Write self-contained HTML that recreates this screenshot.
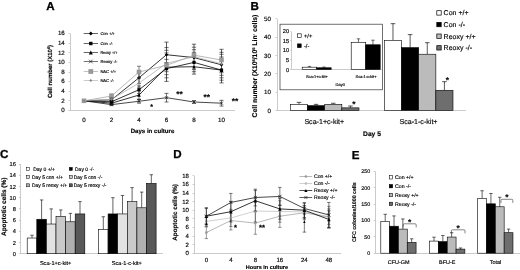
<!DOCTYPE html>
<html lang="en"><head><meta charset="utf-8"><title>Figure</title>
<style>
html,body{margin:0;padding:0;background:#fff;}
body{width:520px;height:270px;overflow:hidden;}
svg{display:block;font-family:"Liberation Sans", Arial, sans-serif;text-rendering:geometricPrecision;filter:blur(0.45px);}
</style></head><body>
<svg width="520" height="270" viewBox="0 0 520 270">
<rect x="0" y="0" width="520" height="270" fill="#fff"/>
<text x="46.20" y="9.70" font-size="11.6" text-anchor="start" font-weight="bold" fill="#000"  stroke="#000" stroke-width="0.3">A</text>
<line x1="70.50" y1="33.60" x2="70.50" y2="110.40" stroke="#b4b4b4" stroke-width="0.7" />
<line x1="70.00" y1="110.50" x2="235.00" y2="110.50" stroke="#b4b4b4" stroke-width="0.7" />
<line x1="68.50" y1="110.50" x2="70.00" y2="110.50" stroke="#b4b4b4" stroke-width="0.7" />
<text x="64.80" y="112.20" font-size="6.2" text-anchor="end" fill="#000"  stroke="#000" stroke-width="0.15">0</text>
<line x1="68.50" y1="100.50" x2="70.00" y2="100.50" stroke="#b4b4b4" stroke-width="0.7" />
<text x="64.80" y="102.60" font-size="6.2" text-anchor="end" fill="#000"  stroke="#000" stroke-width="0.15">2</text>
<line x1="68.50" y1="91.50" x2="70.00" y2="91.50" stroke="#b4b4b4" stroke-width="0.7" />
<text x="64.80" y="93.00" font-size="6.2" text-anchor="end" fill="#000"  stroke="#000" stroke-width="0.15">4</text>
<line x1="68.50" y1="81.50" x2="70.00" y2="81.50" stroke="#b4b4b4" stroke-width="0.7" />
<text x="64.80" y="83.40" font-size="6.2" text-anchor="end" fill="#000"  stroke="#000" stroke-width="0.15">6</text>
<line x1="68.50" y1="72.50" x2="70.00" y2="72.50" stroke="#b4b4b4" stroke-width="0.7" />
<text x="64.80" y="73.80" font-size="6.2" text-anchor="end" fill="#000"  stroke="#000" stroke-width="0.15">8</text>
<line x1="68.50" y1="62.50" x2="70.00" y2="62.50" stroke="#b4b4b4" stroke-width="0.7" />
<text x="64.80" y="64.20" font-size="6.2" text-anchor="end" fill="#000"  stroke="#000" stroke-width="0.15">10</text>
<line x1="68.50" y1="52.50" x2="70.00" y2="52.50" stroke="#b4b4b4" stroke-width="0.7" />
<text x="64.80" y="54.60" font-size="6.2" text-anchor="end" fill="#000"  stroke="#000" stroke-width="0.15">12</text>
<line x1="68.50" y1="43.50" x2="70.00" y2="43.50" stroke="#b4b4b4" stroke-width="0.7" />
<text x="64.80" y="45.00" font-size="6.2" text-anchor="end" fill="#000"  stroke="#000" stroke-width="0.15">14</text>
<line x1="68.50" y1="33.50" x2="70.00" y2="33.50" stroke="#b4b4b4" stroke-width="0.7" />
<text x="64.80" y="35.40" font-size="6.2" text-anchor="end" fill="#000"  stroke="#000" stroke-width="0.15">16</text>
<text x="84.00" y="121.90" font-size="6.2" text-anchor="middle" fill="#000"  stroke="#000" stroke-width="0.15">0</text>
<text x="111.50" y="121.90" font-size="6.2" text-anchor="middle" fill="#000"  stroke="#000" stroke-width="0.15">2</text>
<text x="139.00" y="121.90" font-size="6.2" text-anchor="middle" fill="#000"  stroke="#000" stroke-width="0.15">4</text>
<text x="166.50" y="121.90" font-size="6.2" text-anchor="middle" fill="#000"  stroke="#000" stroke-width="0.15">6</text>
<text x="194.00" y="121.90" font-size="6.2" text-anchor="middle" fill="#000"  stroke="#000" stroke-width="0.15">8</text>
<text x="221.50" y="121.90" font-size="6.2" text-anchor="middle" fill="#000"  stroke="#000" stroke-width="0.15">10</text>
<text x="152.50" y="132.50" font-size="6.1" text-anchor="middle" font-weight="bold" fill="#000"  stroke="#000" stroke-width="0.15">Days in culture</text>
<text x="52.00" y="71.50" font-size="6.0" text-anchor="middle" font-weight="bold" fill="#000" transform="rotate(-90 52.00 71.50)"  stroke="#000" stroke-width="0.15">Cell number (X10<tspan font-size="3.8" dy="-2">6</tspan><tspan dy="2">)</tspan></text>
<polyline points="84.00,100.80 111.50,99.84 139.00,77.76 166.50,54.72 194.00,57.60 221.50,64.80" fill="none" stroke="#000" stroke-width="0.8"/>
<line x1="111.50" y1="98.40" x2="111.50" y2="101.28" stroke="#111" stroke-width="0.6" />
<line x1="109.50" y1="98.40" x2="113.50" y2="98.40" stroke="#111" stroke-width="0.6" />
<line x1="109.50" y1="101.28" x2="113.50" y2="101.28" stroke="#111" stroke-width="0.6" />
<line x1="139.00" y1="72.00" x2="139.00" y2="83.52" stroke="#111" stroke-width="0.6" />
<line x1="137.00" y1="72.00" x2="141.00" y2="72.00" stroke="#111" stroke-width="0.6" />
<line x1="137.00" y1="83.52" x2="141.00" y2="83.52" stroke="#111" stroke-width="0.6" />
<line x1="166.50" y1="42.10" x2="166.50" y2="81.40" stroke="#111" stroke-width="0.7" />
<line x1="164.40" y1="42.10" x2="168.60" y2="42.10" stroke="#111" stroke-width="0.6" />
<line x1="164.40" y1="47.60" x2="168.60" y2="47.60" stroke="#111" stroke-width="0.6" />
<line x1="164.40" y1="50.30" x2="168.60" y2="50.30" stroke="#111" stroke-width="0.6" />
<line x1="164.40" y1="52.90" x2="168.60" y2="52.90" stroke="#111" stroke-width="0.6" />
<line x1="164.40" y1="59.40" x2="168.60" y2="59.40" stroke="#111" stroke-width="0.6" />
<line x1="164.40" y1="62.50" x2="168.60" y2="62.50" stroke="#111" stroke-width="0.6" />
<line x1="164.40" y1="71.70" x2="168.60" y2="71.70" stroke="#111" stroke-width="0.6" />
<line x1="164.40" y1="74.70" x2="168.60" y2="74.70" stroke="#111" stroke-width="0.6" />
<line x1="164.40" y1="77.80" x2="168.60" y2="77.80" stroke="#111" stroke-width="0.6" />
<line x1="164.40" y1="81.40" x2="168.60" y2="81.40" stroke="#111" stroke-width="0.6" />
<line x1="194.00" y1="44.20" x2="194.00" y2="74.10" stroke="#111" stroke-width="0.7" />
<line x1="191.90" y1="44.20" x2="196.10" y2="44.20" stroke="#111" stroke-width="0.6" />
<line x1="191.90" y1="47.20" x2="196.10" y2="47.20" stroke="#111" stroke-width="0.6" />
<line x1="191.90" y1="49.70" x2="196.10" y2="49.70" stroke="#111" stroke-width="0.6" />
<line x1="191.90" y1="52.30" x2="196.10" y2="52.30" stroke="#111" stroke-width="0.6" />
<line x1="191.90" y1="69.60" x2="196.10" y2="69.60" stroke="#111" stroke-width="0.6" />
<line x1="191.90" y1="71.70" x2="196.10" y2="71.70" stroke="#111" stroke-width="0.6" />
<line x1="191.90" y1="74.10" x2="196.10" y2="74.10" stroke="#111" stroke-width="0.6" />
<line x1="221.50" y1="49.30" x2="221.50" y2="82.90" stroke="#111" stroke-width="0.7" />
<line x1="219.40" y1="49.30" x2="223.60" y2="49.30" stroke="#111" stroke-width="0.6" />
<line x1="219.40" y1="52.30" x2="223.60" y2="52.30" stroke="#111" stroke-width="0.6" />
<line x1="219.40" y1="54.30" x2="223.60" y2="54.30" stroke="#111" stroke-width="0.6" />
<line x1="219.40" y1="57.00" x2="223.60" y2="57.00" stroke="#111" stroke-width="0.6" />
<line x1="219.40" y1="72.70" x2="223.60" y2="72.70" stroke="#111" stroke-width="0.6" />
<line x1="219.40" y1="75.30" x2="223.60" y2="75.30" stroke="#111" stroke-width="0.6" />
<line x1="219.40" y1="77.80" x2="223.60" y2="77.80" stroke="#111" stroke-width="0.6" />
<line x1="219.40" y1="80.20" x2="223.60" y2="80.20" stroke="#111" stroke-width="0.6" />
<line x1="219.40" y1="82.90" x2="223.60" y2="82.90" stroke="#111" stroke-width="0.6" />
<polygon points="84.00,99.00 85.80,100.80 84.00,102.60 82.20,100.80" fill="#000"/>
<polygon points="111.50,98.04 113.30,99.84 111.50,101.64 109.70,99.84" fill="#000"/>
<polygon points="139.00,75.96 140.80,77.76 139.00,79.56 137.20,77.76" fill="#000"/>
<polygon points="166.50,52.92 168.30,54.72 166.50,56.52 164.70,54.72" fill="#000"/>
<polygon points="194.00,55.80 195.80,57.60 194.00,59.40 192.20,57.60" fill="#000"/>
<polygon points="221.50,63.00 223.30,64.80 221.50,66.60 219.70,64.80" fill="#000"/>
<polyline points="84.00,100.80 111.50,101.76 139.00,89.76 166.50,68.64 194.00,62.40 221.50,70.08" fill="none" stroke="#000" stroke-width="0.8"/>
<line x1="111.50" y1="100.32" x2="111.50" y2="103.20" stroke="#111" stroke-width="0.6" />
<line x1="109.50" y1="100.32" x2="113.50" y2="100.32" stroke="#111" stroke-width="0.6" />
<line x1="109.50" y1="103.20" x2="113.50" y2="103.20" stroke="#111" stroke-width="0.6" />
<line x1="139.00" y1="85.92" x2="139.00" y2="93.60" stroke="#111" stroke-width="0.6" />
<line x1="137.00" y1="85.92" x2="141.00" y2="85.92" stroke="#111" stroke-width="0.6" />
<line x1="137.00" y1="93.60" x2="141.00" y2="93.60" stroke="#111" stroke-width="0.6" />
<rect x="82.40" y="99.20" width="3.20" height="3.20" fill="#000"/>
<rect x="109.90" y="100.16" width="3.20" height="3.20" fill="#000"/>
<rect x="137.40" y="88.16" width="3.20" height="3.20" fill="#000"/>
<rect x="164.90" y="67.04" width="3.20" height="3.20" fill="#000"/>
<rect x="192.40" y="60.80" width="3.20" height="3.20" fill="#000"/>
<rect x="219.90" y="68.48" width="3.20" height="3.20" fill="#000"/>
<polyline points="84.00,100.80 111.50,103.20 139.00,95.04 166.50,67.20 194.00,66.72 221.50,70.08" fill="none" stroke="#000" stroke-width="0.8"/>
<line x1="111.50" y1="101.76" x2="111.50" y2="104.64" stroke="#111" stroke-width="0.6" />
<line x1="109.50" y1="101.76" x2="113.50" y2="101.76" stroke="#111" stroke-width="0.6" />
<line x1="109.50" y1="104.64" x2="113.50" y2="104.64" stroke="#111" stroke-width="0.6" />
<line x1="139.00" y1="90.72" x2="139.00" y2="99.36" stroke="#111" stroke-width="0.6" />
<line x1="137.00" y1="90.72" x2="141.00" y2="90.72" stroke="#111" stroke-width="0.6" />
<line x1="137.00" y1="99.36" x2="141.00" y2="99.36" stroke="#111" stroke-width="0.6" />
<polygon points="84.00,99.00 85.80,102.60 82.20,102.60" fill="#000"/>
<polygon points="111.50,101.40 113.30,105.00 109.70,105.00" fill="#000"/>
<polygon points="139.00,93.24 140.80,96.84 137.20,96.84" fill="#000"/>
<polygon points="166.50,65.40 168.30,69.00 164.70,69.00" fill="#000"/>
<polygon points="194.00,64.92 195.80,68.52 192.20,68.52" fill="#000"/>
<polygon points="221.50,68.28 223.30,71.88 219.70,71.88" fill="#000"/>
<polyline points="84.00,100.80 111.50,104.64 139.00,101.28 166.50,97.68 194.00,102.00 221.50,103.20" fill="none" stroke="#1a1a1a" stroke-width="0.8"/>
<line x1="111.50" y1="103.68" x2="111.50" y2="105.60" stroke="#111" stroke-width="0.6" />
<line x1="109.50" y1="103.68" x2="113.50" y2="103.68" stroke="#111" stroke-width="0.6" />
<line x1="109.50" y1="105.60" x2="113.50" y2="105.60" stroke="#111" stroke-width="0.6" />
<line x1="139.00" y1="99.36" x2="139.00" y2="103.20" stroke="#111" stroke-width="0.6" />
<line x1="137.00" y1="99.36" x2="141.00" y2="99.36" stroke="#111" stroke-width="0.6" />
<line x1="137.00" y1="103.20" x2="141.00" y2="103.20" stroke="#111" stroke-width="0.6" />
<line x1="166.50" y1="93.36" x2="166.50" y2="102.00" stroke="#111" stroke-width="0.6" />
<line x1="164.50" y1="93.36" x2="168.50" y2="93.36" stroke="#111" stroke-width="0.6" />
<line x1="164.50" y1="102.00" x2="168.50" y2="102.00" stroke="#111" stroke-width="0.6" />
<line x1="194.00" y1="100.56" x2="194.00" y2="103.44" stroke="#111" stroke-width="0.6" />
<line x1="192.00" y1="100.56" x2="196.00" y2="100.56" stroke="#111" stroke-width="0.6" />
<line x1="192.00" y1="103.44" x2="196.00" y2="103.44" stroke="#111" stroke-width="0.6" />
<line x1="221.50" y1="100.32" x2="221.50" y2="106.08" stroke="#111" stroke-width="0.6" />
<line x1="219.50" y1="100.32" x2="223.50" y2="100.32" stroke="#111" stroke-width="0.6" />
<line x1="219.50" y1="106.08" x2="223.50" y2="106.08" stroke="#111" stroke-width="0.6" />
<path d="M82.50 99.30L85.50 102.30M82.50 102.30L85.50 99.30" stroke="#1a1a1a" stroke-width="0.7" fill="none"/>
<path d="M110.00 103.14L113.00 106.14M110.00 106.14L113.00 103.14" stroke="#1a1a1a" stroke-width="0.7" fill="none"/>
<path d="M137.50 99.78L140.50 102.78M137.50 102.78L140.50 99.78" stroke="#1a1a1a" stroke-width="0.7" fill="none"/>
<path d="M165.00 96.18L168.00 99.18M165.00 99.18L168.00 96.18" stroke="#1a1a1a" stroke-width="0.7" fill="none"/>
<path d="M192.50 100.50L195.50 103.50M192.50 103.50L195.50 100.50" stroke="#1a1a1a" stroke-width="0.7" fill="none"/>
<path d="M220.00 101.70L223.00 104.70M220.00 104.70L223.00 101.70" stroke="#1a1a1a" stroke-width="0.7" fill="none"/>
<polyline points="84.00,100.80 111.50,96.00 139.00,72.00 166.50,65.28 194.00,55.20 221.50,60.00" fill="none" stroke="#999" stroke-width="0.7"/>
<line x1="111.50" y1="94.08" x2="111.50" y2="97.92" stroke="#333" stroke-width="0.6" />
<line x1="109.50" y1="94.08" x2="113.50" y2="94.08" stroke="#333" stroke-width="0.6" />
<line x1="109.50" y1="97.92" x2="113.50" y2="97.92" stroke="#333" stroke-width="0.6" />
<line x1="139.00" y1="66.24" x2="139.00" y2="77.76" stroke="#333" stroke-width="0.6" />
<line x1="137.00" y1="66.24" x2="141.00" y2="66.24" stroke="#333" stroke-width="0.6" />
<line x1="137.00" y1="77.76" x2="141.00" y2="77.76" stroke="#333" stroke-width="0.6" />
<rect x="81.70" y="98.50" width="4.60" height="4.60" fill="#999"/>
<rect x="109.20" y="93.70" width="4.60" height="4.60" fill="#999"/>
<rect x="136.70" y="69.70" width="4.60" height="4.60" fill="#999"/>
<rect x="164.20" y="62.98" width="4.60" height="4.60" fill="#999"/>
<rect x="191.70" y="52.90" width="4.60" height="4.60" fill="#999"/>
<rect x="219.20" y="57.70" width="4.60" height="4.60" fill="#999"/>
<polyline points="84.00,100.80 111.50,99.36 139.00,83.04 166.50,63.36 194.00,56.64 221.50,63.84" fill="none" stroke="#aaa" stroke-width="0.7"/>
<line x1="111.50" y1="97.92" x2="111.50" y2="100.80" stroke="#333" stroke-width="0.6" />
<line x1="109.50" y1="97.92" x2="113.50" y2="97.92" stroke="#333" stroke-width="0.6" />
<line x1="109.50" y1="100.80" x2="113.50" y2="100.80" stroke="#333" stroke-width="0.6" />
<line x1="139.00" y1="78.24" x2="139.00" y2="87.84" stroke="#333" stroke-width="0.6" />
<line x1="137.00" y1="78.24" x2="141.00" y2="78.24" stroke="#333" stroke-width="0.6" />
<line x1="137.00" y1="87.84" x2="141.00" y2="87.84" stroke="#333" stroke-width="0.6" />
<polygon points="84.00,99.40 85.40,100.80 84.00,102.20 82.60,100.80" fill="#888"/>
<polygon points="111.50,97.96 112.90,99.36 111.50,100.76 110.10,99.36" fill="#888"/>
<polygon points="139.00,81.64 140.40,83.04 139.00,84.44 137.60,83.04" fill="#888"/>
<polygon points="166.50,61.96 167.90,63.36 166.50,64.76 165.10,63.36" fill="#888"/>
<polygon points="194.00,55.24 195.40,56.64 194.00,58.04 192.60,56.64" fill="#888"/>
<polygon points="221.50,62.44 222.90,63.84 221.50,65.24 220.10,63.84" fill="#888"/>
<line x1="83.70" y1="33.50" x2="98.00" y2="33.50" stroke="#000" stroke-width="0.6" />
<polygon points="90.80,31.50 92.80,33.50 90.80,35.50 88.80,33.50" fill="#000"/>
<text x="100.40" y="35.00" font-size="4.1" text-anchor="start" fill="#000"  stroke="#000" stroke-width="0.15">Con +/+</text>
<line x1="83.70" y1="43.50" x2="98.00" y2="43.50" stroke="#000" stroke-width="0.6" />
<rect x="89.10" y="41.80" width="3.40" height="3.40" fill="#000"/>
<text x="100.40" y="45.00" font-size="4.1" text-anchor="start" fill="#000"  stroke="#000" stroke-width="0.15">Con -/-</text>
<line x1="83.70" y1="52.50" x2="98.00" y2="52.50" stroke="#000" stroke-width="0.6" />
<polygon points="90.80,50.50 92.80,54.50 88.80,54.50" fill="#000"/>
<text x="100.40" y="54.00" font-size="4.1" text-anchor="start" fill="#000" textLength="17" lengthAdjust="spacingAndGlyphs" stroke="#000" stroke-width="0.15">Reoxy +/+</text>
<line x1="83.70" y1="61.50" x2="98.00" y2="61.50" stroke="#1a1a1a" stroke-width="0.6" />
<path d="M89.00 59.70L92.60 63.30M89.00 63.30L92.60 59.70" stroke="#1a1a1a" stroke-width="0.7" fill="none"/>
<text x="100.40" y="63.00" font-size="4.1" text-anchor="start" fill="#000" textLength="17" lengthAdjust="spacingAndGlyphs" stroke="#000" stroke-width="0.15">Reoxy -/-</text>
<line x1="83.70" y1="71.50" x2="98.00" y2="71.50" stroke="#999" stroke-width="0.6" />
<rect x="88.40" y="69.10" width="4.80" height="4.80" fill="#999"/>
<text x="100.40" y="73.00" font-size="4.1" text-anchor="start" fill="#000"  stroke="#000" stroke-width="0.15">NAC +/+</text>
<line x1="83.70" y1="80.50" x2="98.00" y2="80.50" stroke="#aaa" stroke-width="0.6" />
<polygon points="90.80,78.90 92.40,80.50 90.80,82.10 89.20,80.50" fill="#888"/>
<text x="100.40" y="82.00" font-size="4.1" text-anchor="start" fill="#000"  stroke="#000" stroke-width="0.15">NAC -/-</text>
<text x="151.70" y="108.93" font-size="7" text-anchor="middle" font-weight="bold" fill="#000"  stroke="#000" stroke-width="0.15">*</text>
<text x="179.60" y="97.32" font-size="8.4" text-anchor="middle" font-weight="bold" fill="#000"  stroke="#000" stroke-width="0.15">**</text>
<text x="206.80" y="100.32" font-size="8.4" text-anchor="middle" font-weight="bold" fill="#000"  stroke="#000" stroke-width="0.15">**</text>
<text x="235.00" y="103.82" font-size="8.4" text-anchor="middle" font-weight="bold" fill="#000"  stroke="#000" stroke-width="0.15">**</text>
<text x="250.60" y="9.70" font-size="11.6" text-anchor="start" font-weight="bold" fill="#000"  stroke="#000" stroke-width="0.3">B</text>
<line x1="277.50" y1="18.90" x2="277.50" y2="110.40" stroke="#b4b4b4" stroke-width="0.7" />
<line x1="277.00" y1="110.50" x2="466.00" y2="110.50" stroke="#b4b4b4" stroke-width="0.7" />
<line x1="275.50" y1="110.50" x2="277.00" y2="110.50" stroke="#b4b4b4" stroke-width="0.7" />
<text x="271.00" y="112.60" font-size="6.2" text-anchor="end" fill="#000"  stroke="#000" stroke-width="0.15">0</text>
<line x1="275.50" y1="92.50" x2="277.00" y2="92.50" stroke="#b4b4b4" stroke-width="0.7" />
<text x="271.00" y="94.30" font-size="6.2" text-anchor="end" fill="#000"  stroke="#000" stroke-width="0.15">10</text>
<line x1="275.50" y1="73.50" x2="277.00" y2="73.50" stroke="#b4b4b4" stroke-width="0.7" />
<text x="271.00" y="76.00" font-size="6.2" text-anchor="end" fill="#000"  stroke="#000" stroke-width="0.15">20</text>
<line x1="275.50" y1="55.50" x2="277.00" y2="55.50" stroke="#b4b4b4" stroke-width="0.7" />
<text x="271.00" y="57.70" font-size="6.2" text-anchor="end" fill="#000"  stroke="#000" stroke-width="0.15">30</text>
<line x1="275.50" y1="37.50" x2="277.00" y2="37.50" stroke="#b4b4b4" stroke-width="0.7" />
<text x="271.00" y="39.40" font-size="6.2" text-anchor="end" fill="#000"  stroke="#000" stroke-width="0.15">40</text>
<line x1="275.50" y1="18.50" x2="277.00" y2="18.50" stroke="#b4b4b4" stroke-width="0.7" />
<text x="271.00" y="21.10" font-size="6.2" text-anchor="end" fill="#000"  stroke="#000" stroke-width="0.15">50</text>
<text x="257.20" y="66.00" font-size="6.85" text-anchor="middle" font-weight="bold" fill="#000" transform="rotate(-90 257.20 66.00)"  stroke="#000" stroke-width="0.15">Cell number (X10<tspan font-size="4" dy="-2.2">6</tspan><tspan dy="2.2">/10</tspan><tspan font-size="4" dy="-2.2">5</tspan><tspan dy="2.2"> Lin</tspan><tspan font-size="4" dy="-2.2">-</tspan><tspan dy="2.2"> cells)</tspan></text>
<line x1="298.97" y1="104.54" x2="298.97" y2="102.35" stroke="#111" stroke-width="0.7" />
<line x1="296.67" y1="102.35" x2="301.27" y2="102.35" stroke="#111" stroke-width="0.7" />
<rect x="290.40" y="104.54" width="17.15" height="5.86" fill="#fff" stroke="#000" stroke-width="0.6"/>
<line x1="316.12" y1="105.64" x2="316.12" y2="104.36" stroke="#111" stroke-width="0.7" />
<line x1="313.82" y1="104.36" x2="318.42" y2="104.36" stroke="#111" stroke-width="0.7" />
<rect x="307.55" y="105.64" width="17.15" height="4.76" fill="#000" stroke="#000" stroke-width="0.6"/>
<line x1="333.27" y1="104.36" x2="333.27" y2="103.26" stroke="#111" stroke-width="0.7" />
<line x1="330.97" y1="103.26" x2="335.57" y2="103.26" stroke="#111" stroke-width="0.7" />
<rect x="324.70" y="104.36" width="17.15" height="6.04" fill="#bbb" stroke="#000" stroke-width="0.6"/>
<line x1="350.42" y1="107.84" x2="350.42" y2="106.01" stroke="#111" stroke-width="0.7" />
<line x1="348.12" y1="106.01" x2="352.72" y2="106.01" stroke="#111" stroke-width="0.7" />
<rect x="341.85" y="107.84" width="17.15" height="2.56" fill="#6e6e6e" stroke="#000" stroke-width="0.6"/>
<line x1="392.97" y1="40.31" x2="392.97" y2="23.66" stroke="#111" stroke-width="0.7" />
<line x1="390.67" y1="23.66" x2="395.27" y2="23.66" stroke="#111" stroke-width="0.7" />
<rect x="384.40" y="40.31" width="17.15" height="70.09" fill="#fff" stroke="#000" stroke-width="0.6"/>
<line x1="410.12" y1="47.63" x2="410.12" y2="34.64" stroke="#111" stroke-width="0.7" />
<line x1="407.82" y1="34.64" x2="412.42" y2="34.64" stroke="#111" stroke-width="0.7" />
<rect x="401.55" y="47.63" width="17.15" height="62.77" fill="#000" stroke="#000" stroke-width="0.6"/>
<line x1="427.27" y1="54.22" x2="427.27" y2="42.69" stroke="#111" stroke-width="0.7" />
<line x1="424.97" y1="42.69" x2="429.57" y2="42.69" stroke="#111" stroke-width="0.7" />
<rect x="418.70" y="54.22" width="17.15" height="56.18" fill="#bbb" stroke="#000" stroke-width="0.6"/>
<line x1="444.42" y1="90.27" x2="444.42" y2="81.67" stroke="#111" stroke-width="0.7" />
<line x1="442.12" y1="81.67" x2="446.72" y2="81.67" stroke="#111" stroke-width="0.7" />
<rect x="435.85" y="90.27" width="17.15" height="20.13" fill="#6e6e6e" stroke="#000" stroke-width="0.6"/>
<text x="354.00" y="107.42" font-size="8.4" text-anchor="middle" font-weight="bold" fill="#000"  stroke="#000" stroke-width="0.15">*</text>
<text x="447.40" y="82.92" font-size="8.4" text-anchor="middle" font-weight="bold" fill="#000"  stroke="#000" stroke-width="0.15">*</text>
<text x="324.30" y="123.60" font-size="7.1" text-anchor="middle" fill="#000"  stroke="#000" stroke-width="0.15">Sca-1+c-kit+</text>
<text x="418.50" y="123.60" font-size="7.1" text-anchor="middle" fill="#000"  stroke="#000" stroke-width="0.15">Sca-1-c-kit+</text>
<text x="372.00" y="135.60" font-size="6.7" text-anchor="middle" font-weight="bold" fill="#000"  stroke="#000" stroke-width="0.15">Day 5</text>
<rect x="436.80" y="10.70" width="4.40" height="4.40" fill="#fff" stroke="#000" stroke-width="0.7"/>
<text x="443.60" y="15.40" font-size="7.0" text-anchor="start" fill="#000"  stroke="#000" stroke-width="0.15">Con +/+</text>
<rect x="436.80" y="22.35" width="4.40" height="4.40" fill="#000" stroke="#000" stroke-width="0.7"/>
<text x="443.60" y="27.05" font-size="7.0" text-anchor="start" fill="#000"  stroke="#000" stroke-width="0.15">Con -/-</text>
<rect x="436.80" y="34.00" width="4.40" height="4.40" fill="#bbb" stroke="#000" stroke-width="0.7"/>
<text x="443.60" y="38.70" font-size="7.0" text-anchor="start" fill="#000"  stroke="#000" stroke-width="0.15">Reoxy +/+</text>
<rect x="436.80" y="45.65" width="4.40" height="4.40" fill="#6e6e6e" stroke="#000" stroke-width="0.7"/>
<text x="443.60" y="50.35" font-size="7.0" text-anchor="start" fill="#000"  stroke="#000" stroke-width="0.15">Reoxy -/-</text>
<rect x="280.00" y="24.20" width="102.40" height="65.60" fill="#fff" stroke="#333" stroke-width="0.7"/>
<line x1="291.50" y1="32.00" x2="291.50" y2="69.50" stroke="#b4b4b4" stroke-width="0.7" />
<line x1="291.50" y1="69.50" x2="381.60" y2="69.50" stroke="#b4b4b4" stroke-width="0.7" />
<line x1="290.30" y1="69.50" x2="291.50" y2="69.50" stroke="#b4b4b4" stroke-width="0.7" />
<text x="289.20" y="71.50" font-size="5.7" text-anchor="end" fill="#000"  stroke="#000" stroke-width="0.15">0</text>
<line x1="290.30" y1="59.50" x2="291.50" y2="59.50" stroke="#b4b4b4" stroke-width="0.7" />
<text x="289.20" y="61.92" font-size="5.7" text-anchor="end" fill="#000"  stroke="#000" stroke-width="0.15">5</text>
<line x1="290.30" y1="50.50" x2="291.50" y2="50.50" stroke="#b4b4b4" stroke-width="0.7" />
<text x="289.20" y="52.34" font-size="5.7" text-anchor="end" fill="#000"  stroke="#000" stroke-width="0.15">10</text>
<line x1="290.30" y1="40.50" x2="291.50" y2="40.50" stroke="#b4b4b4" stroke-width="0.7" />
<text x="289.20" y="42.76" font-size="5.7" text-anchor="end" fill="#000"  stroke="#000" stroke-width="0.15">15</text>
<line x1="290.30" y1="31.50" x2="291.50" y2="31.50" stroke="#b4b4b4" stroke-width="0.7" />
<text x="289.20" y="33.18" font-size="5.7" text-anchor="end" fill="#000"  stroke="#000" stroke-width="0.15">20</text>
<line x1="309.45" y1="67.20" x2="309.45" y2="66.43" stroke="#111" stroke-width="0.6" />
<line x1="307.75" y1="66.43" x2="311.15" y2="66.43" stroke="#111" stroke-width="0.6" />
<rect x="302.20" y="67.20" width="14.50" height="2.30" fill="#fff" stroke="#000" stroke-width="0.6"/>
<line x1="323.95" y1="67.78" x2="323.95" y2="67.01" stroke="#111" stroke-width="0.6" />
<line x1="322.25" y1="67.01" x2="325.65" y2="67.01" stroke="#111" stroke-width="0.6" />
<rect x="316.70" y="67.78" width="14.50" height="1.72" fill="#000" stroke="#000" stroke-width="0.6"/>
<line x1="358.45" y1="42.29" x2="358.45" y2="38.84" stroke="#111" stroke-width="0.6" />
<line x1="356.75" y1="38.84" x2="360.15" y2="38.84" stroke="#111" stroke-width="0.6" />
<rect x="351.20" y="42.29" width="14.50" height="27.21" fill="#fff" stroke="#000" stroke-width="0.6"/>
<line x1="372.95" y1="44.78" x2="372.95" y2="40.19" stroke="#111" stroke-width="0.6" />
<line x1="371.25" y1="40.19" x2="374.65" y2="40.19" stroke="#111" stroke-width="0.6" />
<rect x="365.70" y="44.78" width="14.50" height="24.72" fill="#000" stroke="#000" stroke-width="0.6"/>
<rect x="297.50" y="33.80" width="3.70" height="3.70" fill="#fff" stroke="#000" stroke-width="0.6"/>
<text x="303.90" y="37.70" font-size="5.8" text-anchor="start" fill="#000"  stroke="#000" stroke-width="0.15">+/+</text>
<rect x="297.50" y="43.90" width="3.70" height="3.70" fill="#000" stroke="#000" stroke-width="0.6"/>
<text x="303.90" y="47.70" font-size="5.8" text-anchor="start" fill="#000"  stroke="#000" stroke-width="0.15">-/-</text>
<text x="316.90" y="77.80" font-size="3.9" text-anchor="middle" fill="#000"  stroke="#000" stroke-width="0.15">Sca-1+c-kit+</text>
<text x="366.00" y="77.80" font-size="3.9" text-anchor="middle" fill="#000"  stroke="#000" stroke-width="0.15">Sca-1-c-kit+</text>
<text x="340.20" y="86.00" font-size="4.0" text-anchor="middle" fill="#000"  stroke="#000" stroke-width="0.15">Day0</text>
<text x="0.10" y="158.40" font-size="11.6" text-anchor="start" font-weight="bold" fill="#000"  stroke="#000" stroke-width="0.3">C</text>
<line x1="20.50" y1="164.10" x2="20.50" y2="253.70" stroke="#b4b4b4" stroke-width="0.7" />
<line x1="20.50" y1="253.50" x2="162.90" y2="253.50" stroke="#b4b4b4" stroke-width="0.7" />
<line x1="19.00" y1="253.50" x2="20.50" y2="253.50" stroke="#b4b4b4" stroke-width="0.7" />
<text x="15.80" y="255.70" font-size="5.7" text-anchor="end" fill="#000"  stroke="#000" stroke-width="0.15">0</text>
<line x1="19.00" y1="242.50" x2="20.50" y2="242.50" stroke="#b4b4b4" stroke-width="0.7" />
<text x="15.80" y="244.50" font-size="5.7" text-anchor="end" fill="#000"  stroke="#000" stroke-width="0.15">2</text>
<line x1="19.00" y1="231.50" x2="20.50" y2="231.50" stroke="#b4b4b4" stroke-width="0.7" />
<text x="15.80" y="233.30" font-size="5.7" text-anchor="end" fill="#000"  stroke="#000" stroke-width="0.15">4</text>
<line x1="19.00" y1="220.50" x2="20.50" y2="220.50" stroke="#b4b4b4" stroke-width="0.7" />
<text x="15.80" y="222.10" font-size="5.7" text-anchor="end" fill="#000"  stroke="#000" stroke-width="0.15">6</text>
<line x1="19.00" y1="208.50" x2="20.50" y2="208.50" stroke="#b4b4b4" stroke-width="0.7" />
<text x="15.80" y="210.90" font-size="5.7" text-anchor="end" fill="#000"  stroke="#000" stroke-width="0.15">8</text>
<line x1="19.00" y1="197.50" x2="20.50" y2="197.50" stroke="#b4b4b4" stroke-width="0.7" />
<text x="15.80" y="199.70" font-size="5.7" text-anchor="end" fill="#000"  stroke="#000" stroke-width="0.15">10</text>
<line x1="19.00" y1="186.50" x2="20.50" y2="186.50" stroke="#b4b4b4" stroke-width="0.7" />
<text x="15.80" y="188.50" font-size="5.7" text-anchor="end" fill="#000"  stroke="#000" stroke-width="0.15">12</text>
<line x1="19.00" y1="175.50" x2="20.50" y2="175.50" stroke="#b4b4b4" stroke-width="0.7" />
<text x="15.80" y="177.30" font-size="5.7" text-anchor="end" fill="#000"  stroke="#000" stroke-width="0.15">14</text>
<line x1="19.00" y1="164.50" x2="20.50" y2="164.50" stroke="#b4b4b4" stroke-width="0.7" />
<text x="15.80" y="166.10" font-size="5.7" text-anchor="end" fill="#000"  stroke="#000" stroke-width="0.15">16</text>
<text x="5.60" y="206.80" font-size="6.5" text-anchor="middle" font-weight="bold" fill="#000" transform="rotate(-90 5.60 206.80)"  stroke="#000" stroke-width="0.15">Apoptotic cells (%)</text>
<line x1="32.00" y1="238.02" x2="32.00" y2="235.22" stroke="#111" stroke-width="0.65" />
<line x1="30.30" y1="235.22" x2="33.70" y2="235.22" stroke="#111" stroke-width="0.65" />
<rect x="27.20" y="238.02" width="9.60" height="15.68" fill="#fff" stroke="#000" stroke-width="0.6"/>
<line x1="41.60" y1="219.26" x2="41.60" y2="199.94" stroke="#111" stroke-width="0.65" />
<line x1="39.90" y1="199.94" x2="43.30" y2="199.94" stroke="#111" stroke-width="0.65" />
<rect x="36.80" y="219.26" width="9.60" height="34.44" fill="#000" stroke="#000" stroke-width="0.6"/>
<line x1="51.20" y1="224.02" x2="51.20" y2="208.90" stroke="#111" stroke-width="0.65" />
<line x1="49.50" y1="208.90" x2="52.90" y2="208.90" stroke="#111" stroke-width="0.65" />
<rect x="46.40" y="224.02" width="9.60" height="29.68" fill="#e2e2e2" stroke="#000" stroke-width="0.6"/>
<line x1="60.80" y1="216.40" x2="60.80" y2="209.96" stroke="#111" stroke-width="0.65" />
<line x1="59.10" y1="209.96" x2="62.50" y2="209.96" stroke="#111" stroke-width="0.65" />
<rect x="56.00" y="216.40" width="9.60" height="37.30" fill="#cacaca" stroke="#000" stroke-width="0.6"/>
<line x1="70.40" y1="221.78" x2="70.40" y2="213.38" stroke="#111" stroke-width="0.65" />
<line x1="68.70" y1="213.38" x2="72.10" y2="213.38" stroke="#111" stroke-width="0.65" />
<rect x="65.60" y="221.78" width="9.60" height="31.92" fill="#b0b0b0" stroke="#000" stroke-width="0.6"/>
<line x1="80.00" y1="213.94" x2="80.00" y2="201.62" stroke="#111" stroke-width="0.65" />
<line x1="78.30" y1="201.62" x2="81.70" y2="201.62" stroke="#111" stroke-width="0.65" />
<rect x="75.20" y="213.94" width="9.60" height="39.76" fill="#585858" stroke="#000" stroke-width="0.6"/>
<line x1="103.30" y1="229.62" x2="103.30" y2="216.74" stroke="#111" stroke-width="0.65" />
<line x1="101.60" y1="216.74" x2="105.00" y2="216.74" stroke="#111" stroke-width="0.65" />
<rect x="98.50" y="229.62" width="9.60" height="24.08" fill="#fff" stroke="#000" stroke-width="0.6"/>
<line x1="112.90" y1="213.94" x2="112.90" y2="197.70" stroke="#111" stroke-width="0.65" />
<line x1="111.20" y1="197.70" x2="114.60" y2="197.70" stroke="#111" stroke-width="0.65" />
<rect x="108.10" y="213.94" width="9.60" height="39.76" fill="#000" stroke="#000" stroke-width="0.6"/>
<line x1="122.50" y1="213.94" x2="122.50" y2="195.46" stroke="#111" stroke-width="0.65" />
<line x1="120.80" y1="195.46" x2="124.20" y2="195.46" stroke="#111" stroke-width="0.65" />
<rect x="117.70" y="213.94" width="9.60" height="39.76" fill="#e2e2e2" stroke="#000" stroke-width="0.6"/>
<line x1="132.10" y1="201.62" x2="132.10" y2="187.62" stroke="#111" stroke-width="0.65" />
<line x1="130.40" y1="187.62" x2="133.80" y2="187.62" stroke="#111" stroke-width="0.65" />
<rect x="127.30" y="201.62" width="9.60" height="52.08" fill="#cacaca" stroke="#000" stroke-width="0.6"/>
<line x1="141.70" y1="207.78" x2="141.70" y2="192.10" stroke="#111" stroke-width="0.65" />
<line x1="140.00" y1="192.10" x2="143.40" y2="192.10" stroke="#111" stroke-width="0.65" />
<rect x="136.90" y="207.78" width="9.60" height="45.92" fill="#b0b0b0" stroke="#000" stroke-width="0.6"/>
<line x1="151.30" y1="183.42" x2="151.30" y2="174.74" stroke="#111" stroke-width="0.65" />
<line x1="149.60" y1="174.74" x2="153.00" y2="174.74" stroke="#111" stroke-width="0.65" />
<rect x="146.50" y="183.42" width="9.60" height="70.28" fill="#585858" stroke="#000" stroke-width="0.6"/>
<text x="55.60" y="264.90" font-size="5.6" text-anchor="middle" fill="#000"  stroke="#000" stroke-width="0.15">Sca-1+c-kit+</text>
<text x="126.80" y="264.90" font-size="5.6" text-anchor="middle" fill="#000"  stroke="#000" stroke-width="0.15">Sca-1-c-kit+</text>
<rect x="26.60" y="167.40" width="3.00" height="3.00" fill="#fff" stroke="#000" stroke-width="0.5"/>
<text x="33.20" y="170.70" font-size="5.0" text-anchor="start" fill="#000"  stroke="#000" stroke-width="0.15">Day 0 +/+</text>
<rect x="69.30" y="167.40" width="3.00" height="3.00" fill="#000" stroke="#000" stroke-width="0.5"/>
<text x="75.00" y="170.70" font-size="5.0" text-anchor="start" fill="#000"  stroke="#000" stroke-width="0.15">Day 0 -/-</text>
<rect x="26.60" y="175.60" width="3.00" height="3.00" fill="#e2e2e2" stroke="#000" stroke-width="0.5"/>
<text x="31.90" y="178.90" font-size="5.0" text-anchor="start" fill="#000"  stroke="#000" stroke-width="0.15">Day 5 con +/+</text>
<rect x="69.30" y="175.60" width="3.00" height="3.00" fill="#cacaca" stroke="#000" stroke-width="0.5"/>
<text x="73.70" y="178.90" font-size="5.0" text-anchor="start" fill="#000"  stroke="#000" stroke-width="0.15">Day 5 con -/-</text>
<rect x="26.60" y="183.80" width="3.00" height="3.00" fill="#b0b0b0" stroke="#000" stroke-width="0.5"/>
<text x="31.90" y="187.10" font-size="5.0" text-anchor="start" fill="#000"  stroke="#000" stroke-width="0.15">Day 5 reoxy +/+</text>
<rect x="69.30" y="183.80" width="3.00" height="3.00" fill="#585858" stroke="#000" stroke-width="0.5"/>
<text x="73.70" y="187.10" font-size="5.0" text-anchor="start" fill="#000"  stroke="#000" stroke-width="0.15">Day 5 reoxy -/-</text>
<text x="173.30" y="158.30" font-size="11.6" text-anchor="start" font-weight="bold" fill="#000"  stroke="#000" stroke-width="0.3">D</text>
<line x1="194.50" y1="175.80" x2="194.50" y2="253.20" stroke="#b4b4b4" stroke-width="0.7" />
<line x1="194.10" y1="253.50" x2="341.10" y2="253.50" stroke="#b4b4b4" stroke-width="0.7" />
<line x1="192.60" y1="253.50" x2="194.10" y2="253.50" stroke="#b4b4b4" stroke-width="0.7" />
<text x="188.90" y="255.20" font-size="6.0" text-anchor="end" fill="#000"  stroke="#000" stroke-width="0.15">0</text>
<line x1="192.60" y1="244.50" x2="194.10" y2="244.50" stroke="#b4b4b4" stroke-width="0.7" />
<text x="188.90" y="246.60" font-size="6.0" text-anchor="end" fill="#000"  stroke="#000" stroke-width="0.15">2</text>
<line x1="192.60" y1="236.50" x2="194.10" y2="236.50" stroke="#b4b4b4" stroke-width="0.7" />
<text x="188.90" y="238.00" font-size="6.0" text-anchor="end" fill="#000"  stroke="#000" stroke-width="0.15">4</text>
<line x1="192.60" y1="227.50" x2="194.10" y2="227.50" stroke="#b4b4b4" stroke-width="0.7" />
<text x="188.90" y="229.40" font-size="6.0" text-anchor="end" fill="#000"  stroke="#000" stroke-width="0.15">6</text>
<line x1="192.60" y1="218.50" x2="194.10" y2="218.50" stroke="#b4b4b4" stroke-width="0.7" />
<text x="188.90" y="220.80" font-size="6.0" text-anchor="end" fill="#000"  stroke="#000" stroke-width="0.15">8</text>
<line x1="192.60" y1="210.50" x2="194.10" y2="210.50" stroke="#b4b4b4" stroke-width="0.7" />
<text x="188.90" y="212.20" font-size="6.0" text-anchor="end" fill="#000"  stroke="#000" stroke-width="0.15">10</text>
<line x1="192.60" y1="201.50" x2="194.10" y2="201.50" stroke="#b4b4b4" stroke-width="0.7" />
<text x="188.90" y="203.60" font-size="6.0" text-anchor="end" fill="#000"  stroke="#000" stroke-width="0.15">12</text>
<line x1="192.60" y1="193.50" x2="194.10" y2="193.50" stroke="#b4b4b4" stroke-width="0.7" />
<text x="188.90" y="195.00" font-size="6.0" text-anchor="end" fill="#000"  stroke="#000" stroke-width="0.15">14</text>
<line x1="192.60" y1="184.50" x2="194.10" y2="184.50" stroke="#b4b4b4" stroke-width="0.7" />
<text x="188.90" y="186.40" font-size="6.0" text-anchor="end" fill="#000"  stroke="#000" stroke-width="0.15">16</text>
<line x1="192.60" y1="175.50" x2="194.10" y2="175.50" stroke="#b4b4b4" stroke-width="0.7" />
<text x="188.90" y="177.80" font-size="6.0" text-anchor="end" fill="#000"  stroke="#000" stroke-width="0.15">18</text>
<text x="206.35" y="261.60" font-size="6.1" text-anchor="middle" fill="#000"  stroke="#000" stroke-width="0.15">0</text>
<text x="230.85" y="261.60" font-size="6.1" text-anchor="middle" fill="#000"  stroke="#000" stroke-width="0.15">4</text>
<text x="255.35" y="261.60" font-size="6.1" text-anchor="middle" fill="#000"  stroke="#000" stroke-width="0.15">8</text>
<text x="279.85" y="261.60" font-size="6.1" text-anchor="middle" fill="#000"  stroke="#000" stroke-width="0.15">16</text>
<text x="304.35" y="261.60" font-size="6.1" text-anchor="middle" fill="#000"  stroke="#000" stroke-width="0.15">24</text>
<text x="328.85" y="261.60" font-size="6.1" text-anchor="middle" fill="#000"  stroke="#000" stroke-width="0.15">48</text>
<text x="266.90" y="268.70" font-size="5.5" text-anchor="middle" font-weight="bold" fill="#000"  stroke="#000" stroke-width="0.15">Hours in culture</text>
<text x="177.40" y="212.50" font-size="6.3" text-anchor="middle" font-weight="bold" fill="#000" transform="rotate(-90 177.40 212.50)"  stroke="#000" stroke-width="0.15">Apoptotic cells (%)</text>
<polyline points="206.35,232.56 230.85,220.52 255.35,223.10 279.85,216.22 304.35,212.78 328.85,217.08" fill="none" stroke="#999" stroke-width="0.7"/>
<line x1="206.35" y1="226.54" x2="206.35" y2="238.58" stroke="#444" stroke-width="0.55" />
<line x1="204.65" y1="226.54" x2="208.05" y2="226.54" stroke="#444" stroke-width="0.55" />
<line x1="204.65" y1="238.58" x2="208.05" y2="238.58" stroke="#444" stroke-width="0.55" />
<line x1="230.85" y1="211.06" x2="230.85" y2="229.98" stroke="#444" stroke-width="0.55" />
<line x1="229.15" y1="211.06" x2="232.55" y2="211.06" stroke="#444" stroke-width="0.55" />
<line x1="229.15" y1="229.98" x2="232.55" y2="229.98" stroke="#444" stroke-width="0.55" />
<line x1="255.35" y1="211.92" x2="255.35" y2="234.28" stroke="#444" stroke-width="0.55" />
<line x1="253.65" y1="211.92" x2="257.05" y2="211.92" stroke="#444" stroke-width="0.55" />
<line x1="253.65" y1="234.28" x2="257.05" y2="234.28" stroke="#444" stroke-width="0.55" />
<line x1="279.85" y1="205.04" x2="279.85" y2="227.40" stroke="#444" stroke-width="0.55" />
<line x1="278.15" y1="205.04" x2="281.55" y2="205.04" stroke="#444" stroke-width="0.55" />
<line x1="278.15" y1="227.40" x2="281.55" y2="227.40" stroke="#444" stroke-width="0.55" />
<line x1="304.35" y1="205.90" x2="304.35" y2="219.66" stroke="#444" stroke-width="0.55" />
<line x1="302.65" y1="205.90" x2="306.05" y2="205.90" stroke="#444" stroke-width="0.55" />
<line x1="302.65" y1="219.66" x2="306.05" y2="219.66" stroke="#444" stroke-width="0.55" />
<line x1="328.85" y1="206.33" x2="328.85" y2="227.83" stroke="#444" stroke-width="0.55" />
<line x1="327.15" y1="206.33" x2="330.55" y2="206.33" stroke="#444" stroke-width="0.55" />
<line x1="327.15" y1="227.83" x2="330.55" y2="227.83" stroke="#444" stroke-width="0.55" />
<circle cx="206.35" cy="232.56" r="1.35" fill="#999"/>
<circle cx="230.85" cy="220.52" r="1.35" fill="#999"/>
<circle cx="255.35" cy="223.10" r="1.35" fill="#999"/>
<circle cx="279.85" cy="216.22" r="1.35" fill="#999"/>
<circle cx="304.35" cy="212.78" r="1.35" fill="#999"/>
<circle cx="328.85" cy="217.08" r="1.35" fill="#999"/>
<polyline points="206.35,221.38 230.85,217.94 255.35,211.06 279.85,211.49 304.35,211.92 328.85,216.65" fill="none" stroke="#bbb" stroke-width="0.7"/>
<line x1="206.35" y1="215.79" x2="206.35" y2="226.97" stroke="#444" stroke-width="0.55" />
<line x1="204.65" y1="215.79" x2="208.05" y2="215.79" stroke="#444" stroke-width="0.55" />
<line x1="204.65" y1="226.97" x2="208.05" y2="226.97" stroke="#444" stroke-width="0.55" />
<line x1="230.85" y1="209.34" x2="230.85" y2="226.54" stroke="#444" stroke-width="0.55" />
<line x1="229.15" y1="209.34" x2="232.55" y2="209.34" stroke="#444" stroke-width="0.55" />
<line x1="229.15" y1="226.54" x2="232.55" y2="226.54" stroke="#444" stroke-width="0.55" />
<line x1="255.35" y1="200.31" x2="255.35" y2="221.81" stroke="#444" stroke-width="0.55" />
<line x1="253.65" y1="200.31" x2="257.05" y2="200.31" stroke="#444" stroke-width="0.55" />
<line x1="253.65" y1="221.81" x2="257.05" y2="221.81" stroke="#444" stroke-width="0.55" />
<line x1="279.85" y1="200.74" x2="279.85" y2="222.24" stroke="#444" stroke-width="0.55" />
<line x1="278.15" y1="200.74" x2="281.55" y2="200.74" stroke="#444" stroke-width="0.55" />
<line x1="278.15" y1="222.24" x2="281.55" y2="222.24" stroke="#444" stroke-width="0.55" />
<line x1="304.35" y1="205.47" x2="304.35" y2="218.37" stroke="#444" stroke-width="0.55" />
<line x1="302.65" y1="205.47" x2="306.05" y2="205.47" stroke="#444" stroke-width="0.55" />
<line x1="302.65" y1="218.37" x2="306.05" y2="218.37" stroke="#444" stroke-width="0.55" />
<line x1="328.85" y1="208.91" x2="328.85" y2="224.39" stroke="#444" stroke-width="0.55" />
<line x1="327.15" y1="208.91" x2="330.55" y2="208.91" stroke="#444" stroke-width="0.55" />
<line x1="327.15" y1="224.39" x2="330.55" y2="224.39" stroke="#444" stroke-width="0.55" />
<circle cx="206.35" cy="221.38" r="1.35" fill="#bbb"/>
<circle cx="230.85" cy="217.94" r="1.35" fill="#bbb"/>
<circle cx="255.35" cy="211.06" r="1.35" fill="#bbb"/>
<circle cx="279.85" cy="211.49" r="1.35" fill="#bbb"/>
<circle cx="304.35" cy="211.92" r="1.35" fill="#bbb"/>
<circle cx="328.85" cy="216.65" r="1.35" fill="#bbb"/>
<polyline points="206.35,216.22 230.85,211.70 255.35,200.74 279.85,208.91 304.35,210.20 328.85,219.44" fill="none" stroke="#000" stroke-width="0.8"/>
<line x1="206.35" y1="208.48" x2="206.35" y2="223.96" stroke="#111" stroke-width="0.55" />
<line x1="204.65" y1="208.48" x2="208.05" y2="208.48" stroke="#111" stroke-width="0.55" />
<line x1="204.65" y1="223.96" x2="208.05" y2="223.96" stroke="#111" stroke-width="0.55" />
<line x1="230.85" y1="201.38" x2="230.85" y2="222.02" stroke="#111" stroke-width="0.55" />
<line x1="229.15" y1="201.38" x2="232.55" y2="201.38" stroke="#111" stroke-width="0.55" />
<line x1="229.15" y1="222.02" x2="232.55" y2="222.02" stroke="#111" stroke-width="0.55" />
<line x1="255.35" y1="190.42" x2="255.35" y2="211.06" stroke="#111" stroke-width="0.55" />
<line x1="253.65" y1="190.42" x2="257.05" y2="190.42" stroke="#111" stroke-width="0.55" />
<line x1="253.65" y1="211.06" x2="257.05" y2="211.06" stroke="#111" stroke-width="0.55" />
<line x1="279.85" y1="198.59" x2="279.85" y2="219.23" stroke="#111" stroke-width="0.55" />
<line x1="278.15" y1="198.59" x2="281.55" y2="198.59" stroke="#111" stroke-width="0.55" />
<line x1="278.15" y1="219.23" x2="281.55" y2="219.23" stroke="#111" stroke-width="0.55" />
<line x1="304.35" y1="202.89" x2="304.35" y2="217.51" stroke="#111" stroke-width="0.55" />
<line x1="302.65" y1="202.89" x2="306.05" y2="202.89" stroke="#111" stroke-width="0.55" />
<line x1="302.65" y1="217.51" x2="306.05" y2="217.51" stroke="#111" stroke-width="0.55" />
<line x1="328.85" y1="210.84" x2="328.85" y2="228.04" stroke="#111" stroke-width="0.55" />
<line x1="327.15" y1="210.84" x2="330.55" y2="210.84" stroke="#111" stroke-width="0.55" />
<line x1="327.15" y1="228.04" x2="330.55" y2="228.04" stroke="#111" stroke-width="0.55" />
<polygon points="206.35,214.47 208.10,217.97 204.60,217.97" fill="#000"/>
<polygon points="230.85,209.95 232.60,213.45 229.10,213.45" fill="#000"/>
<polygon points="255.35,198.99 257.10,202.49 253.60,202.49" fill="#000"/>
<polygon points="279.85,207.16 281.60,210.66 278.10,210.66" fill="#000"/>
<polygon points="304.35,208.45 306.10,211.95 302.60,211.95" fill="#000"/>
<polygon points="328.85,217.69 330.60,221.19 327.10,221.19" fill="#000"/>
<polyline points="206.35,216.22 230.85,202.46 255.35,197.51 279.85,196.44 304.35,208.48 328.85,214.93" fill="none" stroke="#1a1a1a" stroke-width="0.8"/>
<line x1="206.35" y1="207.62" x2="206.35" y2="224.82" stroke="#111" stroke-width="0.55" />
<line x1="204.65" y1="207.62" x2="208.05" y2="207.62" stroke="#111" stroke-width="0.55" />
<line x1="204.65" y1="224.82" x2="208.05" y2="224.82" stroke="#111" stroke-width="0.55" />
<line x1="230.85" y1="193.43" x2="230.85" y2="211.49" stroke="#111" stroke-width="0.55" />
<line x1="229.15" y1="193.43" x2="232.55" y2="193.43" stroke="#111" stroke-width="0.55" />
<line x1="229.15" y1="211.49" x2="232.55" y2="211.49" stroke="#111" stroke-width="0.55" />
<line x1="255.35" y1="189.13" x2="255.35" y2="205.90" stroke="#111" stroke-width="0.55" />
<line x1="253.65" y1="189.13" x2="257.05" y2="189.13" stroke="#111" stroke-width="0.55" />
<line x1="253.65" y1="205.90" x2="257.05" y2="205.90" stroke="#111" stroke-width="0.55" />
<line x1="279.85" y1="187.41" x2="279.85" y2="205.47" stroke="#111" stroke-width="0.55" />
<line x1="278.15" y1="187.41" x2="281.55" y2="187.41" stroke="#111" stroke-width="0.55" />
<line x1="278.15" y1="205.47" x2="281.55" y2="205.47" stroke="#111" stroke-width="0.55" />
<line x1="304.35" y1="202.89" x2="304.35" y2="214.07" stroke="#111" stroke-width="0.55" />
<line x1="302.65" y1="202.89" x2="306.05" y2="202.89" stroke="#111" stroke-width="0.55" />
<line x1="302.65" y1="214.07" x2="306.05" y2="214.07" stroke="#111" stroke-width="0.55" />
<line x1="328.85" y1="202.46" x2="328.85" y2="227.40" stroke="#111" stroke-width="0.55" />
<line x1="327.15" y1="202.46" x2="330.55" y2="202.46" stroke="#111" stroke-width="0.55" />
<line x1="327.15" y1="227.40" x2="330.55" y2="227.40" stroke="#111" stroke-width="0.55" />
<path d="M204.75 214.62L207.95 217.82M204.75 217.82L207.95 214.62" stroke="#1a1a1a" stroke-width="0.7" fill="none"/>
<path d="M229.25 200.86L232.45 204.06M229.25 204.06L232.45 200.86" stroke="#1a1a1a" stroke-width="0.7" fill="none"/>
<path d="M253.75 195.91L256.95 199.11M253.75 199.11L256.95 195.91" stroke="#1a1a1a" stroke-width="0.7" fill="none"/>
<path d="M278.25 194.84L281.45 198.04M278.25 198.04L281.45 194.84" stroke="#1a1a1a" stroke-width="0.7" fill="none"/>
<path d="M302.75 206.88L305.95 210.08M302.75 210.08L305.95 206.88" stroke="#1a1a1a" stroke-width="0.7" fill="none"/>
<path d="M327.25 213.33L330.45 216.53M327.25 216.53L330.45 213.33" stroke="#1a1a1a" stroke-width="0.7" fill="none"/>
<polygon points="206.35,222.76 207.55,225.16 205.15,225.16" fill="#000"/>
<line x1="304.35" y1="212.78" x2="304.35" y2="232.13" stroke="#111" stroke-width="0.55" />
<line x1="302.65" y1="232.13" x2="306.05" y2="232.13" stroke="#111" stroke-width="0.55" />
<polygon points="304.35,220.61 305.55,223.01 303.15,223.01" fill="#000"/>
<line x1="299.40" y1="176.50" x2="312.20" y2="176.50" stroke="#999" stroke-width="0.7" />
<circle cx="305.90" cy="176.50" r="1.30" fill="#999"/>
<text x="314.00" y="178.30" font-size="5.15" text-anchor="start" fill="#000"  stroke="#000" stroke-width="0.15">Con +/+</text>
<line x1="299.40" y1="183.50" x2="312.20" y2="183.50" stroke="#bbb" stroke-width="0.7" />
<circle cx="305.90" cy="183.50" r="1.30" fill="#bbb"/>
<text x="314.00" y="185.30" font-size="5.15" text-anchor="start" fill="#000"  stroke="#000" stroke-width="0.15">Con -/-</text>
<line x1="299.40" y1="190.50" x2="312.20" y2="190.50" stroke="#000" stroke-width="0.7" />
<polygon points="305.90,188.90 307.50,192.10 304.30,192.10" fill="#000"/>
<text x="314.00" y="192.30" font-size="5.15" text-anchor="start" fill="#000"  stroke="#000" stroke-width="0.15">Reoxy +/+</text>
<line x1="299.40" y1="197.50" x2="312.20" y2="197.50" stroke="#1a1a1a" stroke-width="0.7" />
<path d="M304.40 196.00L307.40 199.00M304.40 199.00L307.40 196.00" stroke="#1a1a1a" stroke-width="0.7" fill="none"/>
<text x="314.00" y="199.30" font-size="5.15" text-anchor="start" fill="#000"  stroke="#000" stroke-width="0.15">Reoxy -/-</text>
<text x="235.50" y="229.72" font-size="7.6" text-anchor="middle" font-weight="bold" fill="#000"  stroke="#000" stroke-width="0.15">*</text>
<text x="262.00" y="229.92" font-size="7.6" text-anchor="middle" font-weight="bold" fill="#000"  stroke="#000" stroke-width="0.15">**</text>
<text x="351.70" y="158.50" font-size="11.6" text-anchor="start" font-weight="bold" fill="#000"  stroke="#000" stroke-width="0.3">E</text>
<line x1="375.50" y1="171.45" x2="375.50" y2="253.20" stroke="#b4b4b4" stroke-width="0.7" />
<line x1="375.20" y1="253.50" x2="520.00" y2="253.50" stroke="#b4b4b4" stroke-width="0.7" />
<line x1="373.70" y1="253.50" x2="375.20" y2="253.50" stroke="#b4b4b4" stroke-width="0.7" />
<text x="370.30" y="255.10" font-size="5.4" text-anchor="end" fill="#000"  stroke="#000" stroke-width="0.15">0</text>
<line x1="373.70" y1="236.50" x2="375.20" y2="236.50" stroke="#b4b4b4" stroke-width="0.7" />
<text x="370.30" y="238.75" font-size="5.4" text-anchor="end" fill="#000"  stroke="#000" stroke-width="0.15">50</text>
<line x1="373.70" y1="220.50" x2="375.20" y2="220.50" stroke="#b4b4b4" stroke-width="0.7" />
<text x="370.30" y="222.40" font-size="5.4" text-anchor="end" fill="#000"  stroke="#000" stroke-width="0.15">100</text>
<line x1="373.70" y1="204.50" x2="375.20" y2="204.50" stroke="#b4b4b4" stroke-width="0.7" />
<text x="370.30" y="206.05" font-size="5.4" text-anchor="end" fill="#000"  stroke="#000" stroke-width="0.15">150</text>
<line x1="373.70" y1="187.50" x2="375.20" y2="187.50" stroke="#b4b4b4" stroke-width="0.7" />
<text x="370.30" y="189.70" font-size="5.4" text-anchor="end" fill="#000"  stroke="#000" stroke-width="0.15">200</text>
<line x1="373.70" y1="171.50" x2="375.20" y2="171.50" stroke="#b4b4b4" stroke-width="0.7" />
<text x="370.30" y="173.35" font-size="5.4" text-anchor="end" fill="#000"  stroke="#000" stroke-width="0.15">250</text>
<text x="356.40" y="212.20" font-size="5.25" text-anchor="middle" font-weight="bold" fill="#000" transform="rotate(-90 356.40 212.20)"  stroke="#000" stroke-width="0.15">CFC colonies/1000 cells</text>
<line x1="385.21" y1="221.48" x2="385.21" y2="214.29" stroke="#111" stroke-width="0.65" />
<line x1="383.51" y1="214.29" x2="386.91" y2="214.29" stroke="#111" stroke-width="0.65" />
<rect x="380.80" y="221.48" width="8.82" height="31.72" fill="#fff" stroke="#000" stroke-width="0.6"/>
<line x1="394.03" y1="226.22" x2="394.03" y2="215.92" stroke="#111" stroke-width="0.65" />
<line x1="392.33" y1="215.92" x2="395.73" y2="215.92" stroke="#111" stroke-width="0.65" />
<rect x="389.62" y="226.22" width="8.82" height="26.98" fill="#000" stroke="#000" stroke-width="0.6"/>
<line x1="402.85" y1="229.10" x2="402.85" y2="218.96" stroke="#111" stroke-width="0.65" />
<line x1="401.15" y1="218.96" x2="404.55" y2="218.96" stroke="#111" stroke-width="0.65" />
<rect x="398.44" y="229.10" width="8.82" height="24.10" fill="#bbb" stroke="#000" stroke-width="0.6"/>
<line x1="411.67" y1="242.41" x2="411.67" y2="238.81" stroke="#111" stroke-width="0.65" />
<line x1="409.97" y1="238.81" x2="413.37" y2="238.81" stroke="#111" stroke-width="0.65" />
<rect x="407.26" y="242.41" width="8.82" height="10.79" fill="#6e6e6e" stroke="#000" stroke-width="0.6"/>
<line x1="434.01" y1="241.10" x2="434.01" y2="237.18" stroke="#111" stroke-width="0.65" />
<line x1="432.31" y1="237.18" x2="435.71" y2="237.18" stroke="#111" stroke-width="0.65" />
<rect x="429.60" y="241.10" width="8.82" height="12.10" fill="#fff" stroke="#000" stroke-width="0.6"/>
<line x1="442.83" y1="241.62" x2="442.83" y2="235.54" stroke="#111" stroke-width="0.65" />
<line x1="441.13" y1="235.54" x2="444.53" y2="235.54" stroke="#111" stroke-width="0.65" />
<rect x="438.42" y="241.62" width="8.82" height="11.58" fill="#000" stroke="#000" stroke-width="0.6"/>
<line x1="451.65" y1="237.05" x2="451.65" y2="232.70" stroke="#111" stroke-width="0.65" />
<line x1="449.95" y1="232.70" x2="453.35" y2="232.70" stroke="#111" stroke-width="0.65" />
<rect x="447.24" y="237.05" width="8.82" height="16.15" fill="#bbb" stroke="#000" stroke-width="0.6"/>
<line x1="460.47" y1="249.11" x2="460.47" y2="247.97" stroke="#111" stroke-width="0.65" />
<line x1="458.77" y1="247.97" x2="462.17" y2="247.97" stroke="#111" stroke-width="0.65" />
<rect x="456.06" y="249.11" width="8.82" height="4.09" fill="#6e6e6e" stroke="#000" stroke-width="0.6"/>
<line x1="482.11" y1="198.59" x2="482.11" y2="190.74" stroke="#111" stroke-width="0.65" />
<line x1="480.41" y1="190.74" x2="483.81" y2="190.74" stroke="#111" stroke-width="0.65" />
<rect x="477.70" y="198.59" width="8.82" height="54.61" fill="#fff" stroke="#000" stroke-width="0.6"/>
<line x1="490.93" y1="203.82" x2="490.93" y2="193.49" stroke="#111" stroke-width="0.65" />
<line x1="489.23" y1="193.49" x2="492.63" y2="193.49" stroke="#111" stroke-width="0.65" />
<rect x="486.52" y="203.82" width="8.82" height="49.38" fill="#000" stroke="#000" stroke-width="0.6"/>
<line x1="499.75" y1="206.77" x2="499.75" y2="197.28" stroke="#111" stroke-width="0.65" />
<line x1="498.05" y1="197.28" x2="501.45" y2="197.28" stroke="#111" stroke-width="0.65" />
<rect x="495.34" y="206.77" width="8.82" height="46.43" fill="#bbb" stroke="#000" stroke-width="0.6"/>
<line x1="508.57" y1="232.70" x2="508.57" y2="229.10" stroke="#111" stroke-width="0.65" />
<line x1="506.87" y1="229.10" x2="510.27" y2="229.10" stroke="#111" stroke-width="0.65" />
<rect x="504.16" y="232.70" width="8.82" height="20.50" fill="#6e6e6e" stroke="#000" stroke-width="0.6"/>
<path d="M403.20 227.40V224.80Q403.20 223.80 404.20 223.80H415.20Q416.20 223.80 416.20 224.80V227.40" fill="none" stroke="#222" stroke-width="0.55"/>
<text x="409.70" y="224.82" font-size="8.4" text-anchor="middle" font-weight="bold" fill="#000"  stroke="#000" stroke-width="0.15">*</text>
<path d="M451.40 233.40V230.80Q451.40 229.80 452.40 229.80H464.00Q465.00 229.80 465.00 230.80V233.40" fill="none" stroke="#222" stroke-width="0.55"/>
<text x="458.20" y="230.62" font-size="8.4" text-anchor="middle" font-weight="bold" fill="#000"  stroke="#000" stroke-width="0.15">*</text>
<path d="M501.00 202.90V200.30Q501.00 199.30 502.00 199.30H511.80Q512.80 199.30 512.80 200.30V202.90" fill="none" stroke="#222" stroke-width="0.55"/>
<text x="506.90" y="199.92" font-size="8.4" text-anchor="middle" font-weight="bold" fill="#000"  stroke="#000" stroke-width="0.15">*</text>
<text x="398.60" y="264.30" font-size="5.45" text-anchor="middle" fill="#000"  stroke="#000" stroke-width="0.15">CFU-GM</text>
<text x="447.20" y="264.30" font-size="5.45" text-anchor="middle" fill="#000"  stroke="#000" stroke-width="0.15">BFU-E</text>
<text x="495.60" y="264.30" font-size="5.45" text-anchor="middle" fill="#000"  stroke="#000" stroke-width="0.15">Total</text>
<rect x="389.30" y="175.60" width="3.40" height="3.40" fill="#fff" stroke="#000" stroke-width="0.55"/>
<text x="395.00" y="179.10" font-size="5.2" text-anchor="start" fill="#000"  stroke="#000" stroke-width="0.15">Con +/+</text>
<rect x="389.30" y="184.47" width="3.40" height="3.40" fill="#000" stroke="#000" stroke-width="0.55"/>
<text x="395.00" y="187.97" font-size="5.2" text-anchor="start" fill="#000"  stroke="#000" stroke-width="0.15">Con -/-</text>
<rect x="389.30" y="193.34" width="3.40" height="3.40" fill="#bbb" stroke="#000" stroke-width="0.55"/>
<text x="395.00" y="196.84" font-size="5.2" text-anchor="start" fill="#000"  stroke="#000" stroke-width="0.15">Reoxy +/+</text>
<rect x="389.30" y="202.21" width="3.40" height="3.40" fill="#6e6e6e" stroke="#000" stroke-width="0.55"/>
<text x="395.00" y="205.71" font-size="5.2" text-anchor="start" fill="#000"  stroke="#000" stroke-width="0.15">Reoxy -/-</text>
</svg>
</body></html>
